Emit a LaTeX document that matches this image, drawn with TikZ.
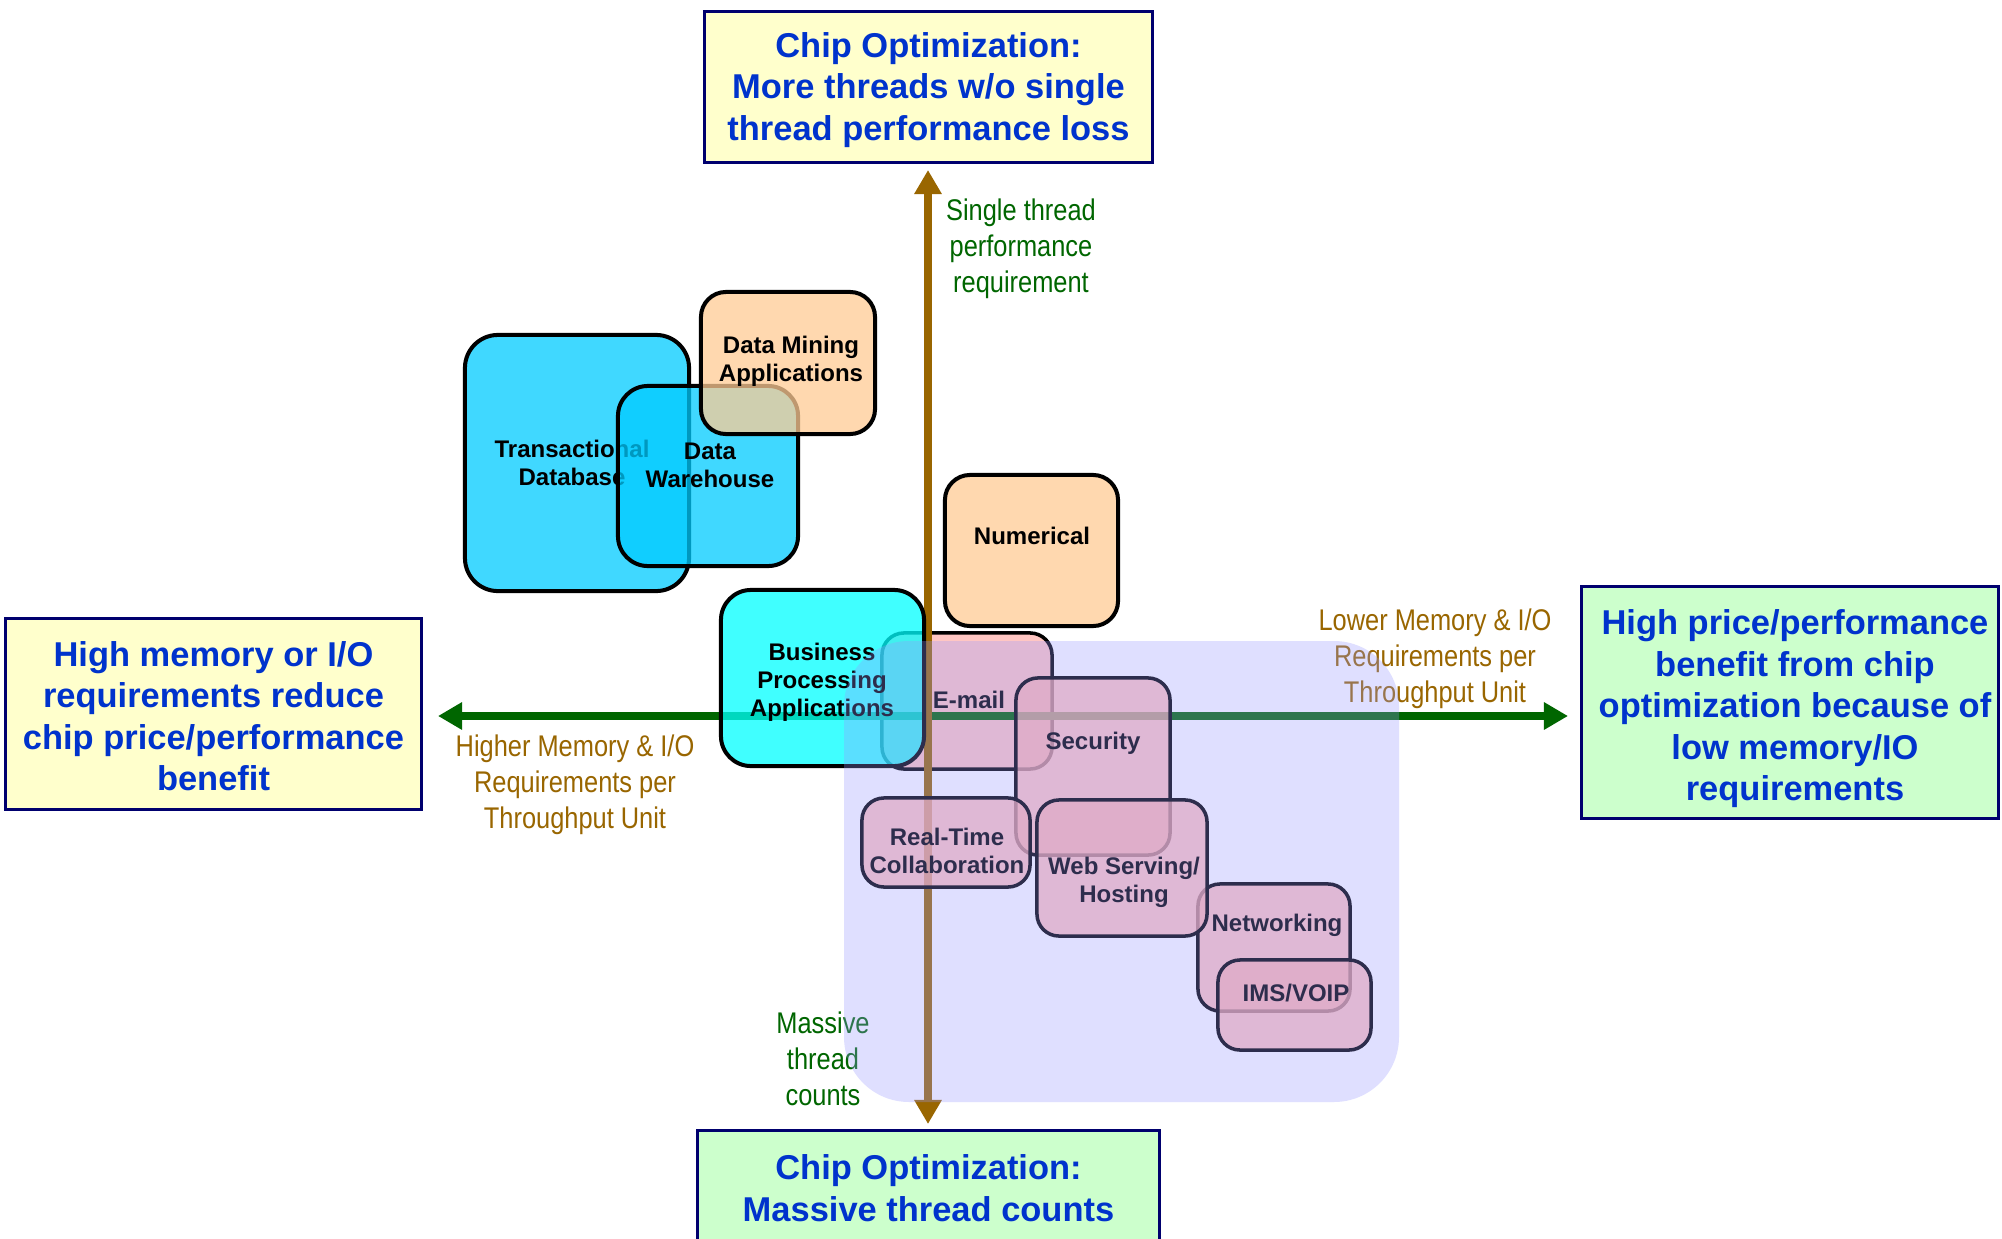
\documentclass[tikz,border=0pt]{standalone}
\usepackage{fontspec}
\setmainfont{Liberation Sans}
\newfontfamily\narrowsans[FakeStretch=0.85]{Liberation Sans}
\usetikzlibrary{arrows.meta}

\definecolor{cyanfill}{RGB}{0,203,255}
\definecolor{aquafill}{RGB}{0,255,255}
\definecolor{peachfill}{RGB}{255,204,149}
\definecolor{pinkfill}{RGB}{255,180,175}
\definecolor{lavfill}{RGB}{152,152,255}
\definecolor{paleyellow}{RGB}{255,255,204}
\definecolor{palegreen}{RGB}{204,255,204}
\definecolor{navyline}{RGB}{0,0,110}
\definecolor{titleblue}{RGB}{0,51,204}
\definecolor{axisgreen}{RGB}{0,102,0}
\definecolor{axisbrown}{RGB}{153,102,0}

\begin{document}
\begin{tikzpicture}[x=0.01cm,y=-0.01cm,
  appbox/.style={draw=black, line width=1.14pt, rounded corners=0.3cm,
    fill opacity=0.75, text opacity=1, inner sep=0pt},
  cyanbox/.style={appbox, fill=cyanfill},
  aquabox/.style={appbox, fill=aquafill},
  peachbox/.style={appbox, fill=peachfill, rounded corners=0.25cm},
  pinkbox/.style={appbox, fill=pinkfill, line width=1pt, rounded corners=0.22cm},
  applbl/.style={font=\fontsize{6.83}{8}\selectfont\bfseries, align=center, inner sep=0pt},
  axislbl/.style={font=\narrowsans\fontsize{8.5}{10.2}\selectfont, align=center, inner sep=0pt},
  bigbox/.style={draw=navyline, line width=0.85pt, inner sep=0pt},
  bigtext/.style={font=\fontsize{9.8}{11.8}\selectfont\bfseries, text=titleblue,
    align=center, inner sep=0pt},
  axisarrow/.style={line width=2pt,
    {Triangle[length=0.24cm,width=0.26cm]}-{Triangle[length=0.24cm,width=0.26cm]}},
]
\useasboundingbox (0,0) rectangle (2002,1239);
\clip (0,0) rectangle (2002,1239);
\fill[white] (0,0) rectangle (2002,1239);

% E-mail sits beneath the axes
\node[pinkbox, minimum width=1.70cm, minimum height=1.36cm] (email) at (967,701) {};
\node[applbl] (emaill) at (969,700) {E-mail};

% axes
\coordinate (vtop) at (928,170);
\coordinate (vbot) at (928,1124);
\coordinate (hleft) at (438,716);
\coordinate (hright) at (1568,716);
\draw[axisarrow, axisgreen] (hleft) -- (hright);
\draw[axisarrow, axisbrown] (vbot) -- (vtop);

\node[axislbl, text=axisgreen] (singlel) at (1021,249) {Single thread\\performance\\requirement};
\node[axislbl, text=axisgreen] (massivel) at (823,1059) {Massive\\thread\\counts};
\node[axislbl, text=axisbrown] (higherl) at (575,785) {Higher Memory \& I/O\\Requirements per\\Throughput Unit};
\node[axislbl, text=axisbrown] (lowerl) at (1435,659) {Lower Memory \& I/O\\Requirements per\\Throughput Unit};

% memory-heavy applications
\node[cyanbox, minimum width=2.24cm, minimum height=2.56cm, rounded corners=0.33cm] (trans) at (577,463) {};
\node[applbl] (transl) at (572,463) {Transactional\\Database};
\node[cyanbox, minimum width=1.80cm, minimum height=1.80cm] (dw) at (708,476) {};
\node[applbl] (dwl) at (710,465) {Data\\Warehouse};
\node[peachbox, minimum width=1.74cm, minimum height=1.42cm] (dm) at (788,363) {};
\node[applbl] (dml) at (791,361) {Data Mining\\Applications};
\node[peachbox, minimum width=1.73cm, minimum height=1.51cm] (num) at (1031.5,550.5) {};
\node[applbl] (numl) at (1032,536) {Numerical};
\node[aquabox, minimum width=2.03cm, minimum height=1.76cm] (bp) at (822.5,678) {};
\node[applbl] (bpl) at (822,682) {Business\\Processing\\Applications};

% throughput applications
\node[pinkbox, minimum width=1.54cm, minimum height=1.77cm] (sec) at (1093,766.5) {};
\node[applbl] (secl) at (1093,743) {Security};
\node[pinkbox, minimum width=1.68cm, minimum height=0.89cm] (rtc) at (946,842.5) {};
\node[applbl] (rtcl) at (947,850.5) {Real-Time\\Collaboration};
\node[pinkbox, minimum width=1.52cm, minimum height=1.27cm] (net) at (1274,947.5) {};
\node[applbl] (netl) at (1277,925) {Networking};
\node[pinkbox, minimum width=1.70cm, minimum height=1.36cm] (web) at (1122,868) {};
\node[applbl] (webl) at (1124,882) {Web Serving/\\Hosting};
\node[pinkbox, minimum width=1.53cm, minimum height=0.90cm] (ims) at (1294.5,1005) {};
\node[applbl] (imsl) at (1296,993) {IMS/VOIP};

% translucent region of throughput-oriented workloads
\fill[lavfill, fill opacity=0.3, rounded corners=0.65cm] (844,641) rectangle (1399,1102);

% outcome boxes
\node[bigbox, fill=paleyellow, minimum width=4.47cm, minimum height=1.50cm] (topbox) at (928.5,87) {};
\node[bigtext] (topt) at (928.5,90) {Chip Optimization:\\More threads w/o single\\thread performance loss};
\node[bigbox, fill=paleyellow, minimum width=4.15cm, minimum height=1.90cm] (leftbox) at (213.5,714) {};
\node[bigtext] (leftt) at (213.5,716) {High memory or I/O\\requirements reduce\\chip price/performance\\benefit};
\node[bigbox, fill=palegreen, minimum width=4.16cm, minimum height=2.31cm] (rightbox) at (1790,702.5) {};
\node[bigtext] (rightt) at (1795,709) {High price/performance\\benefit from chip\\optimization because of\\low memory/IO\\requirements};
\node[bigbox, fill=palegreen, minimum width=4.61cm, minimum height=1.30cm] (botbox) at (928.5,1196) {};
\node[bigtext] (bott) at (928.5,1188) {Chip Optimization:\\Massive thread counts};
\end{tikzpicture}
\end{document}
